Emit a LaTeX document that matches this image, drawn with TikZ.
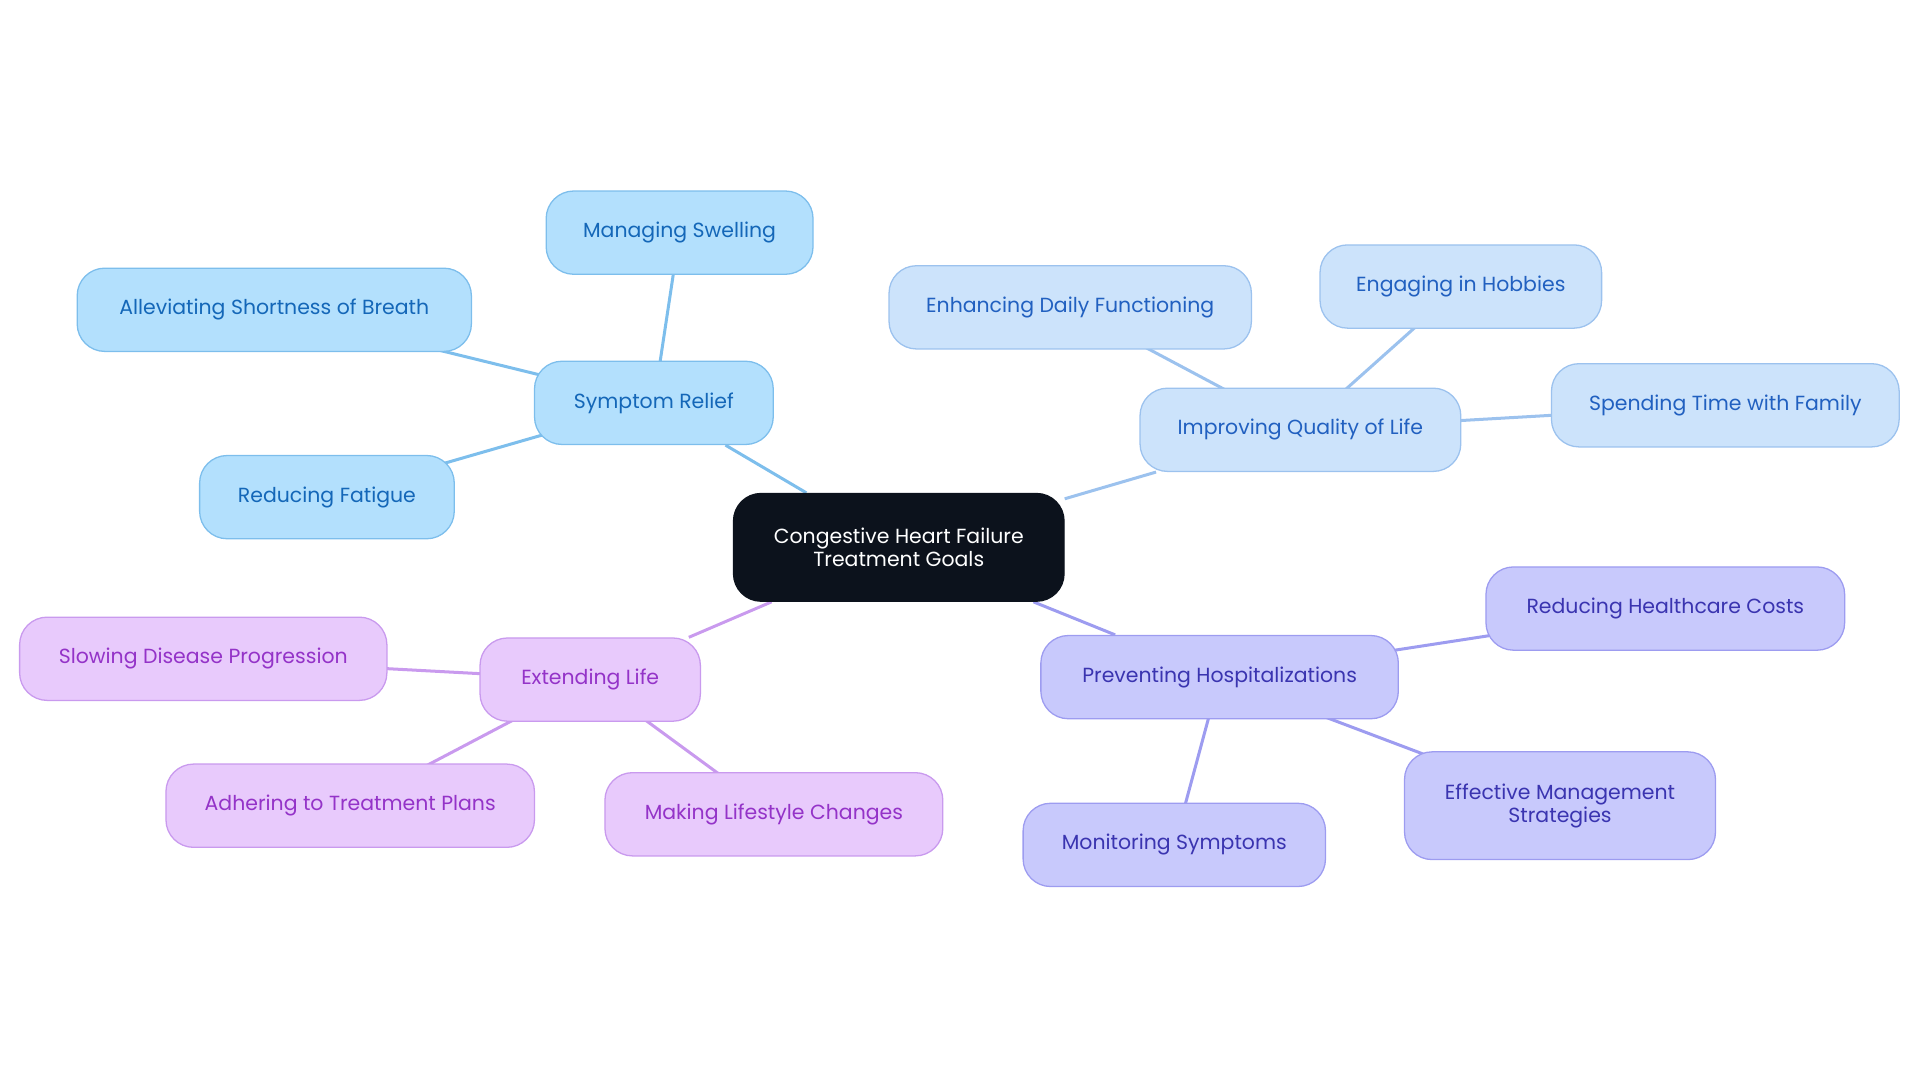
\documentclass[tikz,border=0pt]{standalone}
\usepackage{fontspec}
\setmainfont{Poppins}
\usetikzlibrary{backgrounds}
\definecolor{relfill}{HTML}{B3E0FD}\definecolor{reldraw}{HTML}{7DBEEC}\definecolor{reltext}{HTML}{1467B8}
\definecolor{qolfill}{HTML}{CCE3FB}\definecolor{qoldraw}{HTML}{9CC2EE}\definecolor{qoltext}{HTML}{2160C0}
\definecolor{hosfill}{HTML}{C8C9FC}\definecolor{hosdraw}{HTML}{9D9CF0}\definecolor{hostext}{HTML}{3A34B0}
\definecolor{extfill}{HTML}{E8CAFC}\definecolor{extdraw}{HTML}{C99AEE}\definecolor{exttext}{HTML}{9433C8}
\definecolor{rootfill}{HTML}{0C121C}
\tikzset{goal/.style={draw,rounded corners=4.5mm,minimum height=1.36cm,align=center,
           font=\fontsize{9.5}{10.5}\selectfont,line width=0.6pt},
         relief/.style={goal,fill=relfill,draw=reldraw,text=reltext},
         quality/.style={goal,fill=qolfill,draw=qoldraw,text=qoltext},
         hospital/.style={goal,fill=hosfill,draw=hosdraw,text=hostext},
         extend/.style={goal,fill=extfill,draw=extdraw,text=exttext},
         root/.style={goal,fill=rootfill,draw=rootfill,text=white,minimum height=1.76cm},
         link/.style={line width=1.4pt}}
\begin{document}
\begin{tikzpicture}[x=0.02cm,y=-0.02cm]
\useasboundingbox (0,0) rectangle (1568,884);
\node[root,minimum width=5.4cm](cg)at(734,447){Congestive Heart Failure\\Treatment Goals};

\node[relief,minimum width=3.9cm](sr)at(534,329){Symptom Relief};
\node[relief,minimum width=4.36cm](ms)at(555,190){Managing Swelling};
\node[relief,minimum width=6.44cm](asb)at(224,253){Alleviating Shortness of Breath};
\node[relief,minimum width=4.16cm](rf)at(267,406){Reducing Fatigue};

\node[quality,minimum width=5.24cm](iq)at(1062,351){Improving Quality of Life};
\node[quality,minimum width=5.92cm](ed)at(874,251){Enhancing Daily Functioning};
\node[quality,minimum width=4.6cm](eh)at(1193,234){Engaging in Hobbies};
\node[quality,minimum width=5.68cm](st)at(1409,331){Spending Time with Family};

\node[hospital,minimum width=5.84cm](ph)at(996,553){Preventing Hospitalizations};
\node[hospital,minimum width=5.86cm](rh)at(1360,497){Reducing Healthcare Costs};
\node[hospital,minimum width=5.08cm,minimum height=1.76cm](em)at(1274,658){Effective Management\\Strategies};
\node[hospital,minimum width=4.94cm](mo)at(959,690){Monitoring Symptoms};

\node[extend,minimum width=3.6cm](el)at(482,555){Extending Life};
\node[extend,minimum width=6cm](sd)at(166,538){Slowing Disease Progression};
\node[extend,minimum width=6.02cm](at)at(286,658){Adhering to Treatment Plans};
\node[extend,minimum width=5.52cm](ml)at(632,665){Making Lifestyle Changes};

\begin{scope}[on background layer]
\draw[link,reldraw](cg)--(sr);
\foreach \n in {ms,asb,rf}{\draw[link,reldraw](sr.center)--(\n.center);}
\draw[link,qoldraw](cg)--(iq);
\foreach \n in {ed,eh,st}{\draw[link,qoldraw](iq.center)--(\n.center);}
\draw[link,hosdraw](cg)--(ph);
\foreach \n in {rh,em,mo}{\draw[link,hosdraw](ph.center)--(\n.center);}
\draw[link,extdraw](cg)--(el);
\foreach \n in {sd,at,ml}{\draw[link,extdraw](el.center)--(\n.center);}
\end{scope}
\end{tikzpicture}
\end{document}
